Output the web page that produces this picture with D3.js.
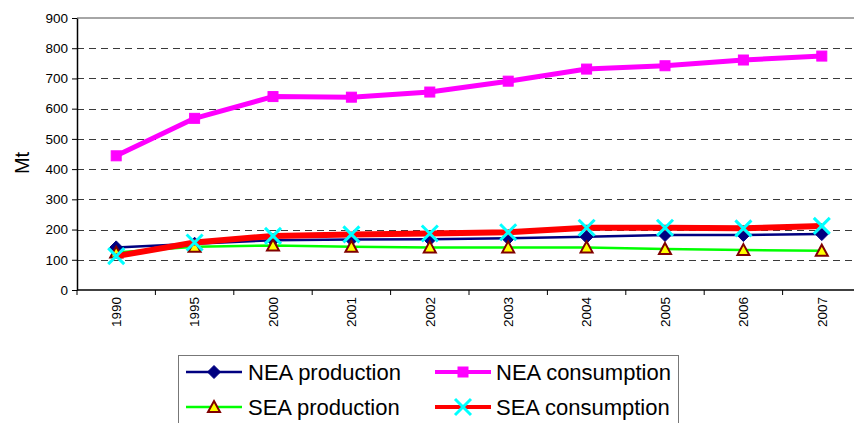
<!DOCTYPE html>
<html>
<head>
<meta charset="utf-8">
<script src="https://cdn.jsdelivr.net/npm/d3@7"></script>
<style>
  html, body { margin: 0; padding: 0; background: #fff; }
  svg { display: block; font-family: "Liberation Sans", Arial, sans-serif; }
</style>
</head>
<body>
<svg id="chart" width="854" height="423"></svg>
<script>
// Coal production and consumption, Mt
const years = ["1990", "1995", "2000", "2001", "2002", "2003", "2004", "2005", "2006", "2007"];
const neaProduction  = [141, 153, 165, 167, 168, 171, 176, 182, 182, 185];
const neaConsumption = [444, 568, 640, 638, 655, 691, 731, 742, 761, 774];
const seaProduction  = [124, 143, 147, 143, 141, 141, 141, 136, 132, 130];
const seaConsumption = [112, 157, 179, 184, 187, 191, 206, 206, 204, 212];
const yTicks = [0, 100, 200, 300, 400, 500, 600, 700, 800, 900];

const series = [
  { name: "NEA production",  values: neaProduction,  line: "#000080", width: 2.5, marker: "diamond" },
  { name: "NEA consumption", values: neaConsumption, line: "#FF00FF", width: 5,   marker: "square" },
  { name: "SEA production",  values: seaProduction,  line: "#00FF00", width: 2.5, marker: "triangle" },
  { name: "SEA consumption", values: seaConsumption, line: "#FF0000", width: 6,   marker: "cross" }
];

const svg = d3.select("#chart");
const plotLeft = 77, plotRight = 861, plotTop = 18, plotBottom = 290;

const x = d3.scaleBand().domain(years).range([plotLeft, plotRight]).padding(0);
const y = d3.scaleLinear().domain([0, 900]).range([plotBottom, plotTop]);
const cx = d => x(d) + x.bandwidth() / 2;

// Horizontal dashed gridlines
svg.append("g").selectAll("line")
  .data(yTicks.filter(v => v > 0 && v < 900))
  .join("line")
  .attr("x1", plotLeft).attr("x2", plotRight)
  .attr("y1", d => Math.round(y(d)) + 0.5).attr("y2", d => Math.round(y(d)) + 0.5)
  .attr("stroke", "#3a3a3a").attr("stroke-width", 1)
  .attr("stroke-dasharray", "7,5");

// Plot area top border
svg.append("line")
  .attr("x1", plotLeft).attr("x2", plotRight)
  .attr("y1", y(900)).attr("y2", y(900))
  .attr("stroke", "#888").attr("stroke-width", 1.5);

// Y axis
const yAxis = svg.append("g")
  .attr("transform", `translate(${plotLeft},0)`)
  .call(d3.axisLeft(y).tickValues(yTicks).tickSize(5).tickPadding(4).tickSizeOuter(0));
yAxis.select(".domain").attr("stroke", "#000").attr("stroke-width", 1.5);
yAxis.selectAll(".tick line").attr("stroke", "#000");
yAxis.selectAll("text").attr("font-size", 13.5).attr("fill", "#000")
  .attr("font-family", "'Liberation Sans', Arial, sans-serif");

// X axis with ticks between categories
const xAxis = svg.append("g").attr("transform", `translate(0,${plotBottom})`);
xAxis.append("line").attr("x1", plotLeft).attr("x2", plotRight)
  .attr("stroke", "#000").attr("stroke-width", 1.5);
xAxis.selectAll(".xt").data(years.concat(["end"])).join("line")
  .attr("class", "xt")
  .attr("x1", d => d === "end" ? plotRight : x(d))
  .attr("x2", d => d === "end" ? plotRight : x(d))
  .attr("y1", 0).attr("y2", 5)
  .attr("stroke", "#000");
xAxis.selectAll("text").data(years).join("text")
  .attr("transform", d => `translate(${cx(d)},7) rotate(-90)`)
  .attr("text-anchor", "end")
  .attr("dy", "0.35em")
  .attr("font-size", 13.5)
  .text(d => d);

// Y axis title
svg.append("text")
  .attr("transform", `translate(22,163) rotate(-90)`)
  .attr("text-anchor", "middle")
  .attr("dy", "0.35em")
  .attr("font-size", 20)
  .text("Mt");

// Marker drawing
function drawMarker(g, type, px, py) {
  if (type === "diamond") {
    g.append("path")
      .attr("d", `M${px},${py - 6.5}L${px + 6.5},${py}L${px},${py + 6.5}L${px - 6.5},${py}Z`)
      .attr("fill", "#000080").attr("stroke", "#000080").attr("stroke-width", 1);
  } else if (type === "square") {
    g.append("rect")
      .attr("x", px - 5).attr("y", py - 5).attr("width", 10).attr("height", 10)
      .attr("fill", "#FF00FF").attr("stroke", "#FF00FF").attr("stroke-width", 1);
  } else if (type === "triangle") {
    g.append("path")
      .attr("d", `M${px},${py - 6}L${px + 6},${py + 5}L${px - 6},${py + 5}Z`)
      .attr("fill", "#FFFF00").attr("stroke", "#800000").attr("stroke-width", 2)
      .attr("stroke-linejoin", "miter");
  } else if (type === "cross") {
    g.append("path")
      .attr("d", `M${px - 8},${py - 8}L${px + 8},${py + 8}M${px - 8},${py + 8}L${px + 8},${py - 8}`)
      .attr("stroke", "#00FFFF").attr("stroke-width", 3).attr("fill", "none");
  }
}

const line = d3.line().x((d, i) => cx(years[i])).y(d => y(d));

series.forEach(s => {
  const g = svg.append("g");
  g.append("path")
    .attr("d", line(s.values))
    .attr("fill", "none")
    .attr("stroke", s.line)
    .attr("stroke-width", s.width)
    .attr("stroke-linejoin", "round");
  s.values.forEach((v, i) => drawMarker(g, s.marker, cx(years[i]), y(v)));
});

// Legend
const legend = svg.append("g");
legend.append("rect")
  .attr("x", 178.5).attr("y", 355.5).attr("width", 500).attr("height", 80)
  .attr("fill", "#fff").attr("stroke", "#777").attr("stroke-width", 1);

const legendPos = [
  { lx: 186, ly: 372, tx: 248 },
  { lx: 435, ly: 372, tx: 496 },
  { lx: 186, ly: 407, tx: 248 },
  { lx: 435, ly: 407, tx: 496 }
];
series.forEach((s, i) => {
  const p = legendPos[i];
  const g = legend.append("g");
  g.append("line")
    .attr("x1", p.lx).attr("x2", p.lx + 56)
    .attr("y1", p.ly).attr("y2", p.ly)
    .attr("stroke", s.line).attr("stroke-width", s.width > 3 ? 4 : 2.5);
  drawMarker(g, s.marker, p.lx + 28, p.ly);
  g.append("text")
    .attr("x", p.tx).attr("y", p.ly)
    .attr("dy", "0.36em")
    .attr("font-size", 22)
    .text(s.name);
});
</script>
</body>
</html>
